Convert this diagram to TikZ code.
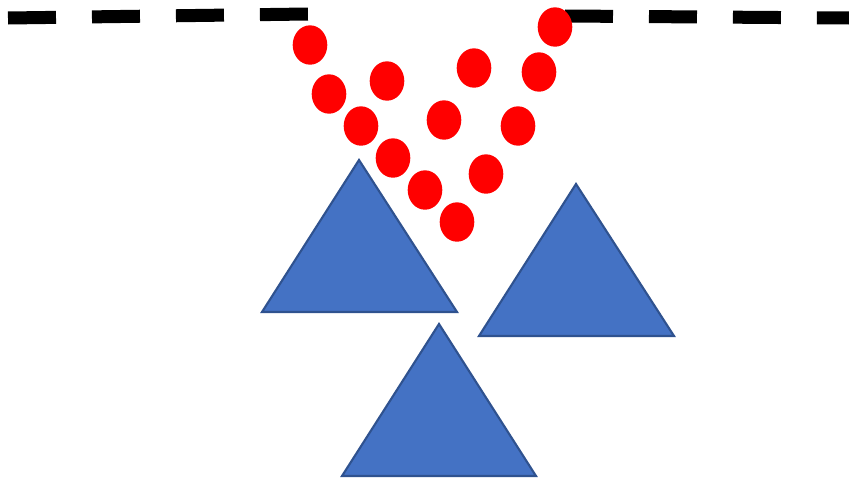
\documentclass[tikz,border=0pt]{standalone}
\usetikzlibrary{calc}
\definecolor{dotred}{HTML}{FF0000}
\definecolor{trifill}{HTML}{4472C4}
\definecolor{triedge}{HTML}{2F528F}

\begin{document}
\begin{tikzpicture}[
    x=0.02cm,y=-0.02cm,
    dashline/.style={line width=7.4pt,draw=black,line cap=butt,dash pattern=on 0.96cm off 0.72cm},
    ball/.style={fill=dotred,draw=none},
    tri/.style={fill=trifill,draw=triedge,line width=1.2pt,line join=miter}]
    \useasboundingbox (0,0) rectangle (849,480);
    % dashed edges at the top
    \coordinate (l1) at (8,18);
    \coordinate (l2) at (308,14);
    \coordinate (r1) at (565,16);
    \coordinate (r2) at (849,18);
    \draw[dashline] (l1) -- (l2);
    \draw[dashline] (r1) -- (r2);
    % falling balls
    \foreach \bx/\by in {310/45,329/94,361/126,393/158,425/190,457/222,
                         387/81,444/120,486/174,474/68,518/126,539/72,555/27}
      \fill[ball] (\bx,\by) ellipse [x radius=17.3,y radius=19.7];
    % triangles
    \draw[tri] (359,160) coordinate (t1) -- (457,312) -- (262,312) -- cycle;
    \draw[tri] (576,184) coordinate (t2) -- (674,336) -- (479,336) -- cycle;
    \draw[tri] (439,324) coordinate (t3) -- (536,476) -- (342,476) -- cycle;
  \end{tikzpicture}
\end{document}
